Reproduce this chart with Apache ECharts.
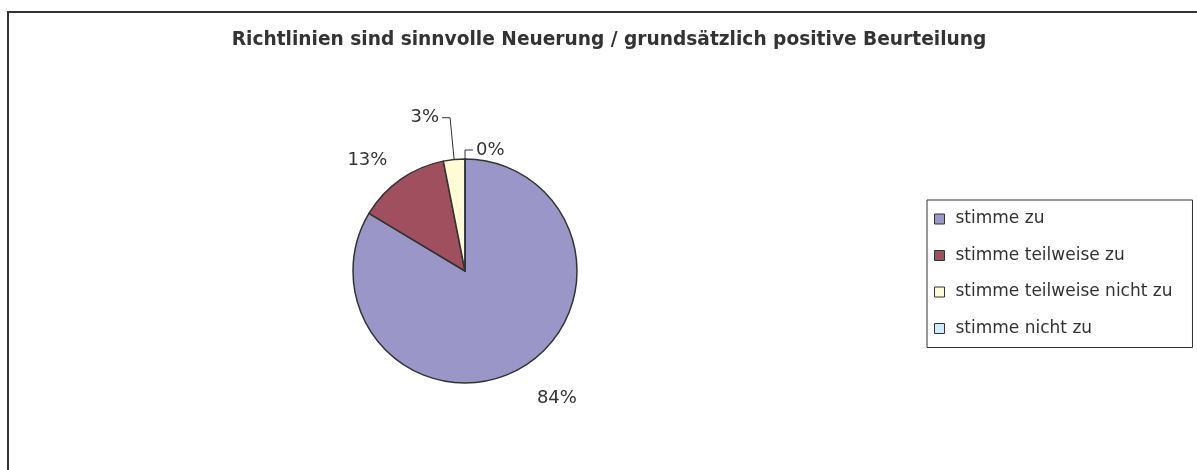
<!DOCTYPE html>
<html>
<head>
<meta charset="utf-8">
<script src="https://cdn.jsdelivr.net/npm/echarts@6/dist/echarts.min.js"></script>
<style>
html,body{margin:0;padding:0;background:#fff;}
#chart{width:1197px;height:470px;}
</style>
</head>
<body>
<div id="chart"></div>
<script>
const titleText = 'Richtlinien sind sinnvolle Neuerung / grundsätzlich positive Beurteilung';
const categories = ['stimme zu', 'stimme teilweise zu', 'stimme teilweise nicht zu', 'stimme nicht zu'];
const values = [83.6, 13.3, 3.1, 0];
const colors = ['#9b96c8', '#a04f5f', '#fffbd4', '#ccecfc'];

const labelCfg = [
  { line: false, length: 34, length2: 0, dist: 0 },
  { line: false, length: 23, length2: 0, dist: 0 },
  { line: true, length: 42, length2: 8, dist: 3 },
  { line: true, length: 9, length2: 8, dist: 3 }
];

const chart = echarts.init(document.getElementById('chart'), null, { renderer: 'canvas' });

const data = categories.map((name, i) => ({
  name: name,
  value: values[i],
  itemStyle: { color: colors[i] },
  label: { show: true, distanceToLabelLine: labelCfg[i].dist },
  labelLine: {
    show: labelCfg[i].line,
    length: labelCfg[i].length,
    length2: labelCfg[i].length2,
    lineStyle: { color: '#333', width: 1 }
  }
}));

chart.setOption({
  backgroundColor: '#ffffff',
  animation: false,
  graphic: [{
    type: 'rect',
    shape: { x: 8, y: 12, width: 1400, height: 600 },
    style: { fill: 'none', stroke: '#333', lineWidth: 2 },
    silent: true
  }],
  title: {
    text: titleText,
    left: 604,
    top: 26,
    textAlign: 'center',
    textStyle: {
      fontFamily: 'DejaVu Sans',
      fontWeight: 'bold',
      fontSize: 18.6,
      color: '#333'
    }
  },
  legend: {
    orient: 'vertical',
    left: 927,
    top: 200,
    data: categories,
    icon: 'rect',
    itemWidth: 10,
    itemHeight: 10,
    itemGap: 18.5,
    padding: [10, 20, 10, 7],
    borderColor: '#333',
    borderWidth: 1,
    borderRadius: 0,
    backgroundColor: '#fff',
    textStyle: {
      fontFamily: 'DejaVu Sans',
      fontSize: 17,
      lineHeight: 18,
      color: '#333',
      padding: [0, 0, 0, 6]
    },
    itemStyle: { borderColor: '#333', borderWidth: 1 }
  },
  series: [{
    type: 'pie',
    center: [465, 271],
    radius: 112,
    startAngle: 89.99,
    clockwise: true,
    avoidLabelOverlap: false,
    minShowLabelAngle: 0,
    itemStyle: { borderColor: '#333', borderWidth: 1.5 },
    emphasis: { disabled: true },
    label: {
      position: 'outside',
      fontFamily: 'DejaVu Sans',
      fontSize: 18,
      color: '#333',
      formatter: p => Math.round(p.percent) + '%'
    },
    data: data
  }]
});
</script>
</body>
</html>
